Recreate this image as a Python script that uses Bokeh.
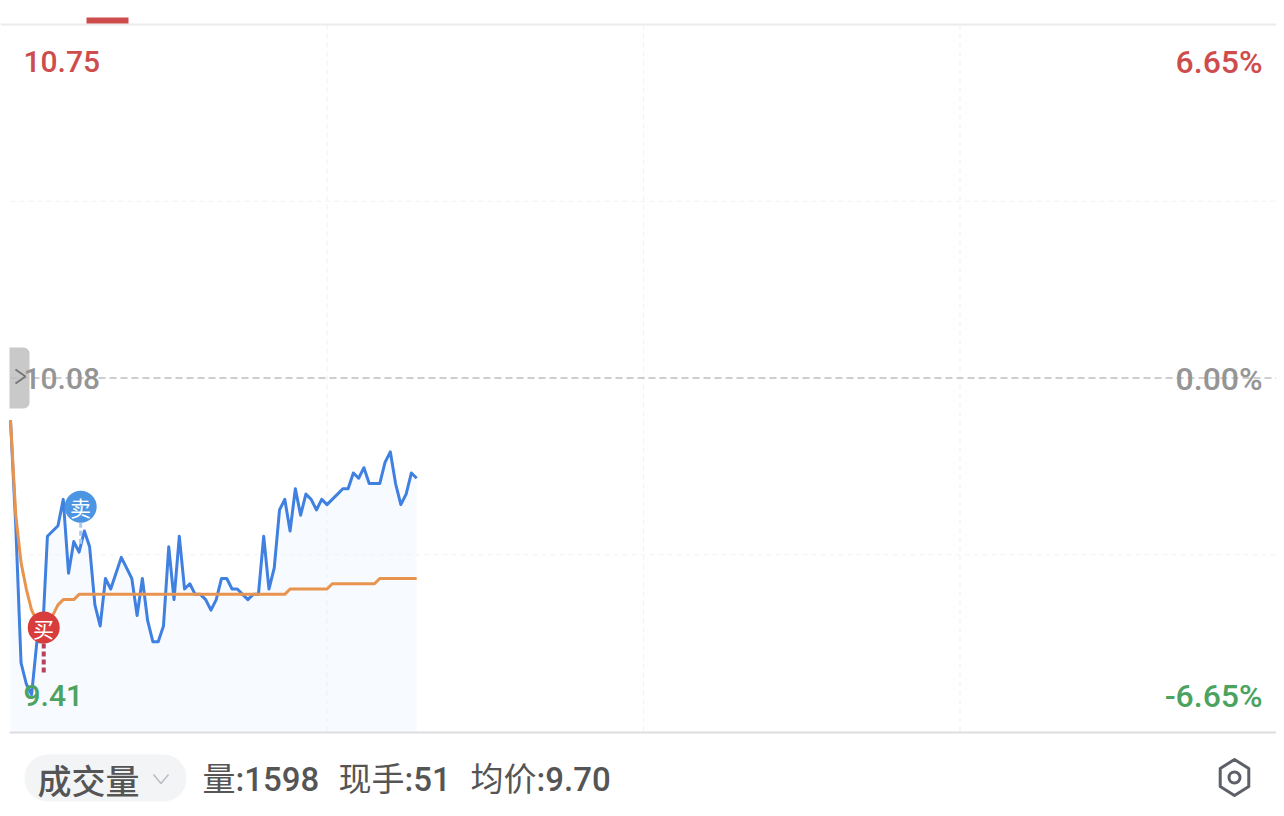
from bokeh.plotting import figure
from bokeh.embed import file_html
from bokeh.resources import INLINE
from bokeh.core.properties import value
import numpy as np

# ---- data ----
prev_close = 10.08
price_high = 10.75
price_low = 9.41
price = [10.00, 9.80, 9.54, 9.50, 9.48, 9.58, 9.58, 9.78, 9.79, 9.80,
         9.85, 9.71, 9.77, 9.75, 9.79, 9.76, 9.65, 9.61, 9.70, 9.68,
         9.71, 9.74, 9.72, 9.70, 9.63, 9.70, 9.62, 9.58, 9.58, 9.61,
         9.76, 9.66, 9.78, 9.68, 9.69, 9.67, 9.67, 9.66, 9.64, 9.66,
         9.70, 9.70, 9.68, 9.68, 9.67, 9.66, 9.67, 9.67, 9.78, 9.68,
         9.72, 9.83, 9.85, 9.79, 9.87, 9.82, 9.86, 9.85, 9.83, 9.85,
         9.84, 9.85, 9.86, 9.87, 9.87, 9.90, 9.89, 9.91, 9.88, 9.88,
         9.88, 9.92, 9.94, 9.88, 9.84, 9.86, 9.90, 9.89]
average = [10.00, 9.82, 9.73, 9.68, 9.64, 9.62, 9.61, 9.61, 9.63, 9.65,
           9.66, 9.66, 9.66, 9.67, 9.67, 9.67, 9.67, 9.67, 9.67, 9.67,
           9.67, 9.67, 9.67, 9.67, 9.67, 9.67, 9.67, 9.67, 9.67, 9.67,
           9.67, 9.67, 9.67, 9.67, 9.67, 9.67, 9.67, 9.67, 9.67, 9.67,
           9.67, 9.67, 9.67, 9.67, 9.67, 9.67, 9.67, 9.67, 9.67, 9.67,
           9.67, 9.67, 9.67, 9.68, 9.68, 9.68, 9.68, 9.68, 9.68, 9.68,
           9.68, 9.69, 9.69, 9.69, 9.69, 9.69, 9.69, 9.69, 9.69, 9.69,
           9.70, 9.70, 9.70, 9.70, 9.70, 9.70, 9.70, 9.70]
minutes = list(range(len(price)))
grid_minutes = [60, 120, 180]
grid_prices = [10.415, 9.745]
buy_trade = (6.3, 9.607, 9.52)
sell_trade = (13.3, 9.836, 9.76)

# ---- mapping from page pixels to the data space (for chrome only) ----
PX_PER_MIN = 5.275
PX_PER_YUAN = 527.6
def X(px):
    return (np.asarray(px, dtype=float) - 10.0) / PX_PER_MIN
def Y(py):
    return prev_close + (377.5 - np.asarray(py, dtype=float)) / PX_PER_YUAN

p = figure(width=1276, height=808, output_backend="svg", toolbar_location=None,
           x_range=(float(X(0)), float(X(1276))), y_range=(float(Y(808)), float(Y(0))),
           x_axis_location=None, y_axis_location=None, min_border=0,
           outline_line_color=None, background_fill_color="white", border_fill_color="white")
p.grid.visible = False

# area under price
p.varea(minutes, [price_low] * len(minutes), price, fill_color="#f7faff")

# grid
GRID = "#f1f2f4"
p.segment(grid_minutes, [price_low] * 3, grid_minutes, [price_high] * 3,
          line_color=GRID, line_width=1.2, line_dash="5 4")
p.segment([0, 0], grid_prices, [240, 240], grid_prices,
          line_color=GRID, line_width=1.2, line_dash="5 4")
p.segment([float(X(0))], [price_high], [float(X(1284))], [price_high], line_color="#ebebeb", line_width=2)
p.segment([float(X(9))], [price_low - 0.002], [float(X(1276))], [price_low - 0.002], line_color="#dcdddf", line_width=2)

# handle on the left
p.quad(left=[float(X(9))], right=[float(X(29))], top=[float(Y(347))], bottom=[float(Y(408))],
       fill_color="#c9c9c9", line_color=None, border_radius=(0, 6, 6, 0))

# previous close
p.segment([0], [prev_close], [240], [prev_close], line_color="#bdbdbd", line_width=1.5, line_dash="7 4")
p.line(X([15, 25, 15]), Y([369, 376, 383]), line_color="#777777", line_width=2)

# lines
p.line(minutes, price, line_color="#3f80e0", line_width=3, line_join="round")
p.line(minutes, average, line_color="#e8944f", line_width=3, line_join="round")

# trades
p.segment([sell_trade[0]], [sell_trade[1]], [sell_trade[0]], [sell_trade[2]],
          line_color="#a9c9ee", line_width=3, line_dash="5 3")
p.segment([buy_trade[0]], [buy_trade[1]], [buy_trade[0]], [buy_trade[2]],
          line_color="#b8405a", line_width=4, line_dash="5 3")
p.scatter([sell_trade[0]], [sell_trade[1]], size=32, marker="circle", fill_color="#4b95e3", line_color=None)
p.scatter([buy_trade[0]], [buy_trade[1]], size=32, marker="circle", fill_color="#d83c3c", line_color=None)

CJK = "Noto Sans CJK SC"
NUM = "Roboto Medium, Roboto, Noto Sans CJK SC"
def txt(x, y, s, size, color, align="left", font=NUM, style="normal"):
    p.text([float(X(x))], [float(Y(y))], text=[s], text_color=color, text_font=value(font),
           text_font_size=f"{size}px", text_align=align, text_baseline="middle", text_font_style=style)

txt(80, 506, "卖", 21, "white", "center", CJK)
txt(43, 627, "买", 21, "white", "center", CJK)

RED, GREEN, GREY = "#cf4c4c", "#4ba35f", "#959595"
txt(23, 61, "10.75", 30, RED)
txt(23, 378, "10.08", 30, GREY)
txt(23, 695, "9.41", 30, GREEN)
txt(1262, 61, "6.65%", 32, RED, "right")
txt(1262, 378, "0.00%", 32, GREY, "right")
txt(1262, 695, "-6.65%", 32, GREEN, "right")

# top tab
p.quad(left=[float(X(86))], right=[float(X(128))], top=[float(Y(17))], bottom=[float(Y(23))],
       fill_color="#cf4c4c", line_color=None)

# bottom bar
p.quad(left=[float(X(24))], right=[float(X(186))], top=[float(Y(754))], bottom=[float(Y(801))],
       fill_color="#f3f4f6", line_color=None, border_radius=23)
txt(37, 779, "成交量", 34, "#555555", font="Noto Sans CJK SC Medium, Noto Sans CJK SC")
p.line(X([153, 160.5, 168]), Y([774, 783, 774]), line_color="#b9bcc2", line_width=1.5)
TXT = "#555555"
txt(202, 779, "量:1598", 33, TXT)
txt(338, 779, "现手:51", 33, TXT)
txt(470, 779, "均价:9.70", 33, TXT)

# settings icon
ang = np.deg2rad(np.arange(90, 450, 60))
p.patch(X(1234 + 16.5 * np.cos(ang)), Y(777 - 18 * np.sin(ang)), fill_color=None,
        line_color="#5d6068", line_width=3, line_join="round")
p.scatter([float(X(1234))], [float(Y(777))], size=11, marker="circle", fill_color=None,
          line_color="#5d6068", line_width=3)

open("out.html", "w").write(file_html(p, INLINE))
